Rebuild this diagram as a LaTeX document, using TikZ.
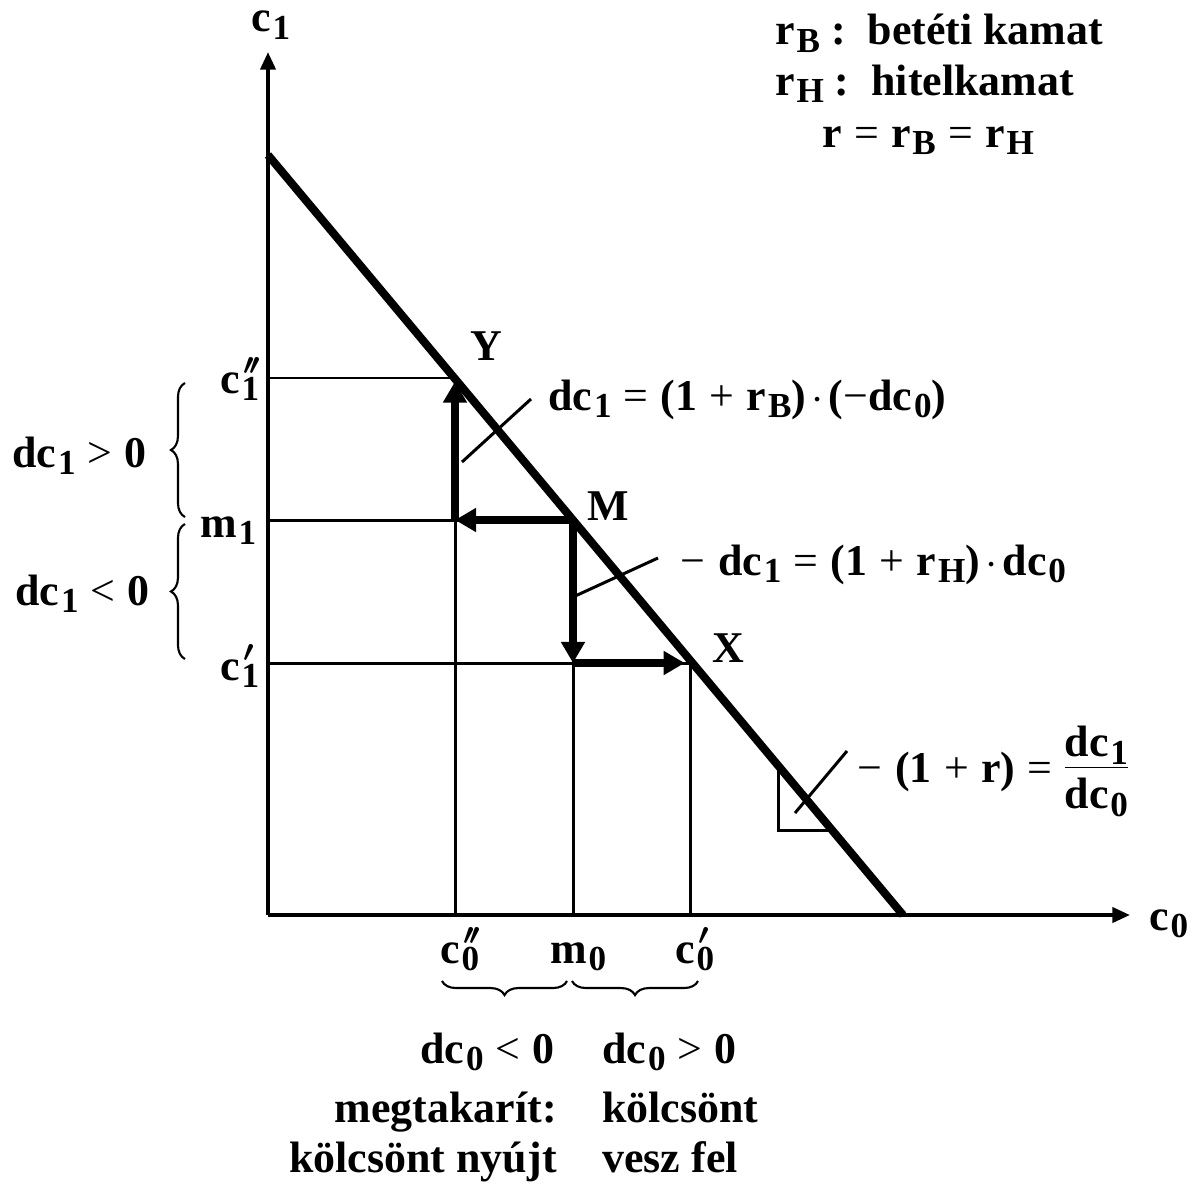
\documentclass[tikz,border=0pt]{standalone}
\usepackage{fontspec}
\setmainfont{Liberation Serif}
\usetikzlibrary{arrows.meta,decorations.pathreplacing}

\newcommand{\ix}[1]{\hspace{0.04em}\raisebox{-0.38ex}{\fontsize{20}{20}\selectfont #1}}
\newcommand{\ixp}[2]{\rlap{\hspace{0.08em}\raisebox{10.5pt}{\fontsize{16}{16}\selectfont\boldmath$#1$}}\ix{#2}}
\newcommand{\rel}[1]{\hspace{0.28em}{\mdseries #1}\hspace{0.28em}}

\begin{document}
\begin{tikzpicture}[x=0.02cm,y=-0.02cm,
    lbl/.style={inner sep=0pt,font=\fontsize{25}{30}\selectfont\bfseries},
    guide/.style={line width=1.7pt},
    axis/.style={line width=2.2pt,-{Triangle[length=10pt,width=8.5pt]}},
    move/.style={line width=4pt,-{Triangle[length=12pt,width=13pt]}},
    brc/.style={decorate,decoration={brace,amplitude=8pt},line width=1.2pt}]
\useasboundingbox (0,0) rectangle (1199,1186);
% points on the budget line
\coordinate (O) at (268,915);
\coordinate (top) at (268,155);
\coordinate (bot) at (903,915);
\coordinate (Y) at (455,378);
\coordinate (M) at (573,520);
\coordinate (X) at (690,663);
% guides
\draw[guide] (O|-Y) -- (Y) -- (Y|-O);
\draw[guide] (O|-M) -- (M) -- (M|-O);
\draw[guide] (O|-X) -- (X) -- (X|-O);
\draw[guide] (778,770) |- (829,830);
% axes
\draw[axis] (O) -- (268,52);
\draw[axis] (O) -- (1130,915);
\draw[line width=4.6pt] (top) -- (bot);
% moves
\draw[move] (Y|-M) -- ([yshift=-2pt]Y);
\draw[move] (M) -- (Y|-M);
\draw[move] (M) -- (M|-X);
\draw[move] (M|-X) -- ([xshift=-3pt]X);
% legend
\node[lbl,anchor=base west] (rB) at (775,45) {r\ix{B} :\ \ betéti kamat};
\node[lbl,anchor=base west] (rH) at (775,95) {r\ix{H} :\ \ hitelkamat};
\node[lbl,anchor=base west] (r) at (822,147) {r\rel{=}r\ix{B}\rel{=}r\ix{H}};
% axis labels
\node[lbl,anchor=base west] (c1) at (251,32) {c\ix{1}};
\node[lbl,anchor=base west] (c0) at (1149,930) {c\ix{0}};
\node[lbl,anchor=base west] (lY) at (470,360) {Y};
\node[lbl,anchor=base west] (lM) at (587,520) {M};
\node[lbl,anchor=base west] (lX) at (712,662) {X};
\node[lbl,anchor=base west] (c1pp) at (220,393) {c\ixp{\prime\mkern-2mu\prime}{1}};
\node[lbl,anchor=base west] (m1) at (200,537) {m\ix{1}};
\node[lbl,anchor=base west] (c1p) at (220,680) {c\ixp{\prime}{1}};
\node[lbl,anchor=base west] (c0pp) at (440,963) {c\ixp{\prime\mkern-2mu\prime}{0}};
\node[lbl,anchor=base west] (m0) at (550,963) {m\ix{0}};
\node[lbl,anchor=base west] (c0p) at (675,963) {c\ixp{\prime}{0}};
% slopes
\coordinate (aB) at (462,462);
\coordinate (bB) at (531,399);
\coordinate (aH) at (573,597);
\coordinate (bH) at (658,558);
\coordinate (ar) at (795,813);
\coordinate (br) at (847,751);
\draw[guide] (aB) -- (bB);
\draw[guide] (aH) -- (bH);
\draw[guide] (ar) -- (br);
\node[lbl,anchor=base west] (eqB) at (548,410) {dc\ix{1}\rel{=}(1\rel{+}r\ix{B})\hspace{0.12em}{\mdseries$\cdot$}\hspace{0.12em}({\mdseries −}dc\ix{0})};
\node[lbl,anchor=base west] (eqH) at (680,575) {{\mdseries −}\hspace{0.3em}dc\ix{1}\rel{=}(1\rel{+}r\ix{H})\hspace{0.12em}{\mdseries$\cdot$}\hspace{0.12em}dc\ix{0}};
\node[lbl,anchor=west] (eqr) at (857,772) {{\mdseries −}\hspace{0.3em}(1\rel{+}r)\rel{=}\begin{tabular}{@{}c@{}}dc\ix{1}\\[-3pt]\hline\rule{0pt}{23pt}dc\ix{0}\end{tabular}};
% braces
\draw[brc] (185,517) -- (185,383);
\draw[brc] (185,659) -- (185,524);
\draw[brc] (567,981) -- (442,981);
\draw[brc] (698,981) -- (572,981);
\node[lbl,anchor=base west] (dp1) at (12,467) {dc\ix{1}\rel{>}0};
\node[lbl,anchor=base west] (dn1) at (15,605) {dc\ix{1}\rel{<}0};
\node[lbl,anchor=base west] (dn0) at (420,1063) {dc\ix{0}\rel{<}0};
\node[lbl,anchor=base west] (dp0) at (602,1063) {dc\ix{0}\rel{>}0};
\node[lbl,anchor=base east] (sav) at (557,1122) {megtakarít:};
\node[lbl,anchor=base east] (len) at (557,1172) {kölcsönt nyújt};
\node[lbl,anchor=base west] (bor) at (602,1122) {kölcsönt};
\node[lbl,anchor=base west] (fel) at (602,1172) {vesz fel};
\end{tikzpicture}
\end{document}
